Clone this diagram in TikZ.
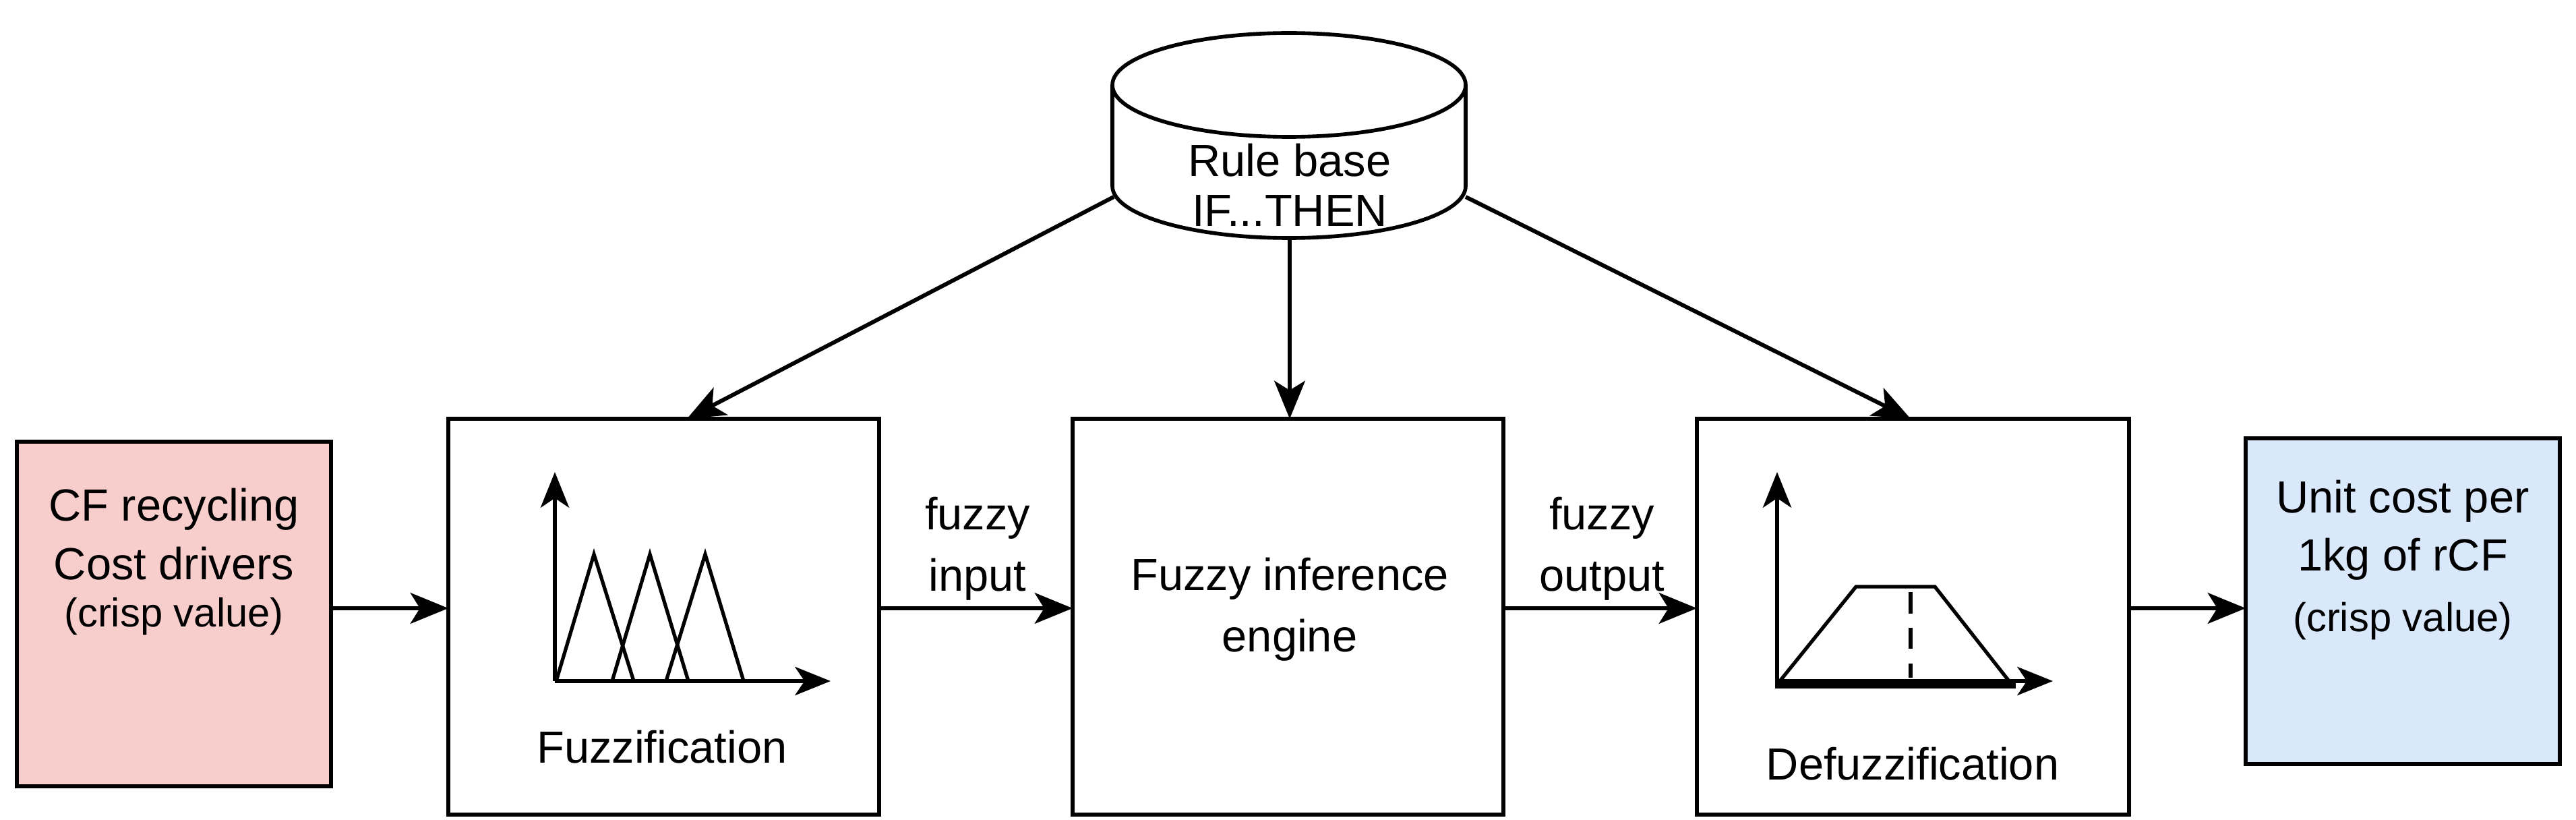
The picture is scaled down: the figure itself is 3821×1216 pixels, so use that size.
\documentclass[tikz,border=0pt]{standalone}
\usepackage{fontspec}
\setmainfont{Liberation Sans}
\usetikzlibrary{arrows.meta}
\begin{document}
\begin{tikzpicture}[x=0.01cm,y=-0.01cm,
  box/.style={draw,line width=1.6pt},
  txt/.style={font=\fontsize{19pt}{26pt}\selectfont,align=center,inner sep=0pt},
  stxt/.style={font=\fontsize{17pt}{22pt}\selectfont,align=center,inner sep=0pt},
  arr/.style={line width=1.7pt,-{Stealth[length=16pt,width=13pt,inset=4pt]}},
  ax/.style={line width=1.6pt,-{Stealth[length=15pt,width=12pt,inset=4pt]}},
  mf/.style={line width=1.5pt}]
\useasboundingbox (0,0) rectangle (3821,1216);
% input box
\path[box,fill={rgb,255:red,248;green,206;blue,204}] (25,655) rectangle (491,1166);
\coordinate (inE) at (491,902);
\node[txt] at (258,755) {CF recycling};
\node[txt] at (258,836) {Cost drivers};
\node[stxt] at (258,914) {(crisp value)};
\draw[box] (665,621) rectangle (1304,1208);
\coordinate (fzW) at (665,902); \coordinate (fzE) at (1304,902); \coordinate (fzT) at (1019,621);
\draw[box] (1591,621) rectangle (2230,1208);
\coordinate (ieW) at (1591,902); \coordinate (ieE) at (2230,902); \coordinate (ieT) at (1913,621);
\draw[box] (2517,621) rectangle (3158,1208);
\coordinate (dfW) at (2517,902); \coordinate (dfE) at (3158,902); \coordinate (dfT) at (2834,621);
\path[box,fill={rgb,255:red,218;green,232;blue,252}] (3331,650) rectangle (3797,1133);
\coordinate (outW) at (3331,902);
\node[txt] at (3564,743) {Unit cost per};
\node[txt] at (3564,829) {1kg of rCF};
\node[stxt] at (3564,921) {(crisp value)};
% cylinder
\draw[box,fill=white] (1650,126) -- (1650,276) arc[start angle=180,end angle=0,x radius=262,y radius=77] -- (2174,126);
\draw[box,fill=white] (1912,126) ellipse[x radius=262,y radius=77];
\node[txt,font=\fontsize{19pt}{21pt}\selectfont] (rb) at (1913,274) {Rule base\\IF...THEN};
\coordinate (rbL) at (1652,292); \coordinate (rbB) at (1913,353); \coordinate (rbR) at (2174,292);
% arrows
\draw[arr] (rbL) -- (fzT);
\draw[arr] (rbB) -- (ieT);
\draw[arr] (rbR) -- (dfT);
\draw[arr] (inE) -- (fzW);
\draw[arr] (fzE) -- (ieW);
\draw[arr] (ieE) -- (dfW);
\draw[arr] (dfE) -- (outW);
\node[txt] at (1450,814) {fuzzy\\input};
\node[txt] at (2376,814) {fuzzy\\output};
\node[txt] at (1913,904) {Fuzzy inference\\engine};
% fuzzification plot
\coordinate (o1) at (823,1010);
\draw[ax] (o1) -- (823,700);
\draw[ax] (o1) -- (1232,1010);
\draw[mf] (825,1010) -- (881,822) -- (940,1010);
\draw[mf] (908,1010) -- (964,822) -- (1021,1010);
\draw[mf] (988,1010) -- (1046,822) -- (1103,1010);
\node[txt] at (982,1108) {Fuzzification};
% defuzzification plot
\coordinate (o2) at (2636,1010);
\draw[ax] (o2) -- (2636,700);
\draw[ax] (o2) -- (3045,1010);
\draw[line width=3.5pt] (2633,1015) -- (2990,1015);
\draw[mf] (2640,1010) -- (2753,870) -- (2870,870) -- (2980,1010);
\draw[mf,dash pattern=on 9pt off 6pt] (2834,878) -- (2834,1005);
\node[txt] at (2837,1133) {Defuzzification};
\end{tikzpicture}
\end{document}
